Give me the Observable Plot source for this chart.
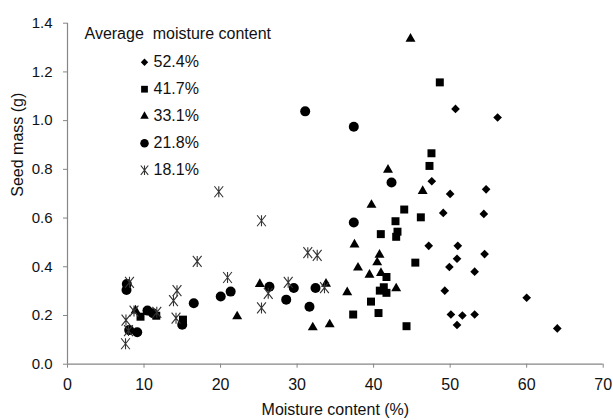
<!DOCTYPE html>
<html><head><meta charset="utf-8">
<script src="https://cdn.jsdelivr.net/npm/d3@7"></script>
<script src="https://cdn.jsdelivr.net/npm/@observablehq/plot@0.6"></script>
<style>body{margin:0;background:#fff;}</style>
</head><body><div id="chart"></div>
<script>
const seriesNames = ["52.4%", "41.7%", "33.1%", "21.8%", "18.1%"];
const legendTitle = "Average  moisture content";
const xTicks = [0, 10, 20, 30, 40, 50, 60, 70];
const yTicks = [0, 0.2, 0.4, 0.6, 0.8, 1.0, 1.2, 1.4];

const diamondX = [50.7, 56.2, 47.6, 50.0, 54.7, 49.1, 54.4, 47.2, 51.0, 50.9, 49.9, 54.5, 53.2, 49.3, 60.0, 50.1, 51.6, 53.2, 50.9, 64.0];
const diamondY = [1.048, 1.013, 0.751, 0.699, 0.718, 0.621, 0.617, 0.486, 0.486, 0.433, 0.399, 0.452, 0.380, 0.302, 0.273, 0.204, 0.200, 0.204, 0.161, 0.147];

const squareX = [48.65, 47.56, 47.30, 44.0, 46.17, 42.86, 40.94, 43.12, 42.95, 45.45, 41.68, 41.33, 41.68, 40.81, 39.66, 37.33, 40.64, 44.30, 15.09, 9.54, 11.6];
const squareY = [1.157, 0.866, 0.814, 0.635, 0.603, 0.587, 0.534, 0.544, 0.523, 0.417, 0.358, 0.316, 0.293, 0.302, 0.257, 0.204, 0.210, 0.156, 0.183, 0.195, 0.199];

const triangleX = [44.82, 41.88, 46.41, 39.72, 37.50, 40.77, 40.47, 37.96, 39.46, 40.96, 42.95, 36.55, 33.78, 32.05, 34.26, 25.13, 22.17, 8.89];
const triangleY = [1.336, 0.798, 0.711, 0.654, 0.491, 0.449, 0.418, 0.396, 0.367, 0.374, 0.311, 0.295, 0.330, 0.151, 0.163, 0.329, 0.196, 0.220];

const circleX = [31.06, 37.41, 42.34, 37.41, 32.41, 31.62, 16.50, 20.02, 21.32, 26.39, 28.58, 29.57, 7.75, 7.71, 10.45, 11.17, 8.06, 9.11, 14.99];
const circleY = [1.038, 0.975, 0.746, 0.582, 0.313, 0.236, 0.250, 0.278, 0.298, 0.318, 0.265, 0.313, 0.329, 0.305, 0.220, 0.209, 0.140, 0.131, 0.162];

const starX = [19.77, 25.35, 16.95, 20.91, 31.40, 32.63, 28.84, 26.23, 25.35, 33.58, 8.10, 14.31, 13.85, 14.18, 8.69, 11.67, 7.64, 7.97, 7.58];
const starY = [0.708, 0.589, 0.422, 0.356, 0.458, 0.447, 0.336, 0.291, 0.231, 0.314, 0.336, 0.302, 0.261, 0.189, 0.218, 0.213, 0.181, 0.138, 0.084];

const font = "'Liberation Sans', Arial, sans-serif";
const axisGray = "#868686";

const star = {
  draw(ctx, size) {
    const r = Math.sqrt(size / Math.PI);
    const d = r * 0.8;
    ctx.moveTo(-d, -r); ctx.lineTo(d, r);
    ctx.moveTo(-d, r); ctx.lineTo(d, -r);
    ctx.moveTo(0, -r); ctx.lineTo(0, r);
  }
};

const xsAll = [diamondX, squareX, triangleX, circleX, starX];
const ysAll = [diamondY, squareY, triangleY, circleY, starY];
const styles = [
  {symbol: "diamond2", r: 3.9, fill: "#000", stroke: "none"},
  {symbol: "square", r: 4.5, fill: "#000", stroke: "none"},
  {symbol: "triangle", r: 3.7, fill: "#000", stroke: "none"},
  {symbol: "circle", r: 5, fill: "#000", stroke: "none"},
  {symbol: star, r: 5.5, fill: "none", stroke: "#333", strokeWidth: 1.1}
];

const tables = seriesNames.map((name, i) => xsAll[i].map((x, j) => ({series: name, x, y: ysAll[i][j]})));

const dataMarks = tables.map((t, i) => Plot.dot(t, {x: "x", y: "y", ...styles[i]}));
const legendMarks = seriesNames.flatMap((name, i) => [
  Plot.dot([name], {frameAnchor: "top-left", dx: 77, dy: 39 + i * 27, ...styles[i], r: styles[i].r * 0.85}),
  Plot.text([name], {frameAnchor: "top-left", dx: 86, dy: 39 + i * 27, text: d => d, textAnchor: "start", lineAnchor: "middle", fontSize: 16, fill: "#111"})
]);

const chart = Plot.plot({
  width: 613,
  height: 420,
  marginLeft: 67,
  marginRight: 10.3,
  marginTop: 22.7,
  marginBottom: 56.3,
  style: {fontFamily: font, fontSize: "15px", color: "#111", background: "#fff"},
  x: {domain: [0, 70]},
  y: {domain: [0, 1.4]},
  marks: [
    Plot.axisX({ticks: xTicks, tickSize: 4, tickPadding: 10, fontSize: 16, stroke: axisGray, label: null}),
    Plot.axisY({ticks: yTicks, tickSize: 4, tickPadding: 11, fontSize: 15, stroke: axisGray, tickFormat: d3.format(".1f"), label: null}),
    Plot.ruleX([0], {stroke: axisGray, strokeWidth: 1.2}),
    Plot.ruleY([0], {stroke: axisGray, strokeWidth: 1.2}),
    Plot.text(["Moisture content (%)"], {frameAnchor: "bottom", dy: 46, text: d => d, fontSize: 16, fill: "#111", lineAnchor: "middle"}),
    Plot.text(["Seed mass (g)"], {frameAnchor: "left", dx: -50, dy: 3, rotate: -90, text: d => d, fontSize: 16, fill: "#111", lineAnchor: "middle"}),
    Plot.text([legendTitle], {frameAnchor: "top-left", dx: 17, dy: 11, text: d => d, textAnchor: "start", lineAnchor: "middle", fontSize: 16, fill: "#111"}),
    ...legendMarks,
    ...dataMarks
  ]
});
document.getElementById("chart").appendChild(chart);
</script></body></html>
